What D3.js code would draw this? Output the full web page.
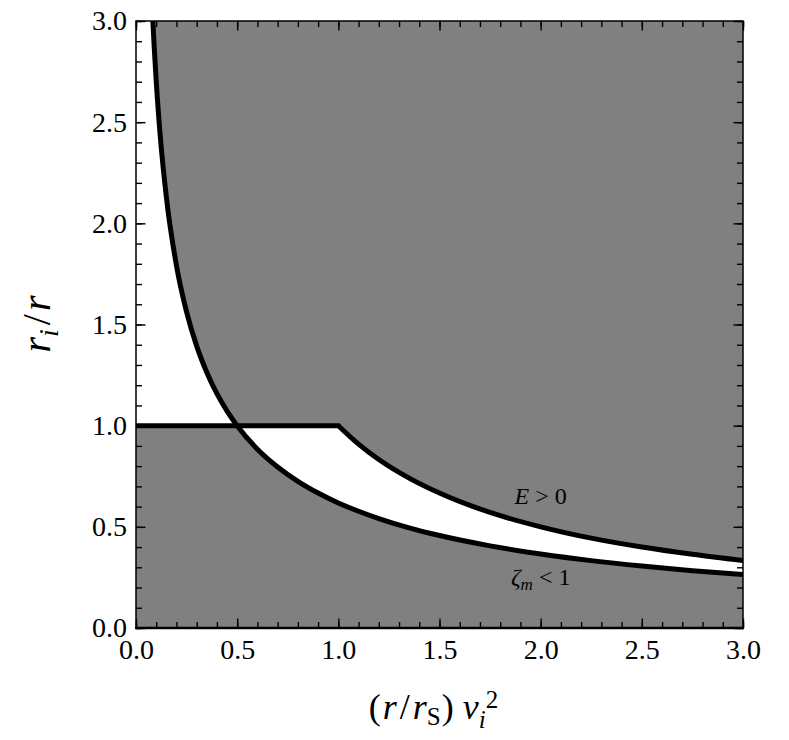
<!DOCTYPE html>
<html>
<head>
<meta charset="utf-8">
<script src="https://cdn.jsdelivr.net/npm/d3@7"></script>
<style>
  body { margin: 0; background: #fff; }
  svg text { font-family: "Liberation Serif", "Times New Roman", serif; fill: #000; }
</style>
</head>
<body>
<svg id="chart" width="789" height="740"></svg>
<script>
// (r/rS) vi^2 samples and the zeta_m = 1 boundary (ri/r)
const vGrid     = [0.0833, 0.09, 0.1, 0.12, 0.15, 0.2, 0.25, 0.3, 0.35, 0.4, 0.45, 0.5,
                   0.6, 0.7, 0.8, 0.9, 1.0, 1.1, 1.2, 1.35, 1.5, 1.75, 2.0, 2.25, 2.5, 2.75, 3.0];
const zetaBound = [3.000, 2.871, 2.702, 2.430, 2.130, 1.791, 1.562, 1.393, 1.263, 1.158, 1.072, 1.000,
                   0.884, 0.796, 0.725, 0.667, 0.618, 0.577, 0.541, 0.495, 0.457, 0.406, 0.366, 0.333, 0.306, 0.283, 0.264];

// E = 0 boundary: flat part, then the falling part
const flatX  = [0, 1.0];
const flatY  = [1, 1];
const eGrid  = [1.0, 1.1, 1.2, 1.35, 1.5, 1.75, 2.0, 2.25, 2.5, 2.75, 3.0];
const eBound = [1.000, 0.909, 0.833, 0.741, 0.667, 0.571, 0.500, 0.444, 0.400, 0.364, 0.333];

const tickMajor  = [0, 0.5, 1, 1.5, 2, 2.5, 3];
const tickLabels = ['0.0', '0.5', '1.0', '1.5', '2.0', '2.5', '3.0'];

const width = 789, height = 740;
const margin = {top: 21, right: 46, bottom: 112, left: 136};
const gray = '#808080';

const svg = d3.select('#chart');

const x = d3.scaleLinear().domain([0, 3]).range([margin.left, width - margin.right]);
const y = d3.scaleLinear().domain([0, 3]).range([height - margin.bottom, margin.top]);

svg.append('defs').append('clipPath').attr('id', 'plotClip')
    .append('rect')
    .attr('x', x(0)).attr('y', y(3))
    .attr('width', x(3) - x(0)).attr('height', y(0) - y(3));

const plot = svg.append('g').attr('clip-path', 'url(#plotClip)');

// background: everything excluded
plot.append('rect')
    .attr('x', x(0)).attr('y', y(3))
    .attr('width', x(3) - x(0)).attr('height', y(0) - y(3))
    .attr('fill', gray);

const zetaPts = vGrid.map((v, i) => [v, zetaBound[i]]);
const zetaAt = (v) => zetaBound[vGrid.indexOf(v)];

const whiteArea = (sel) => sel.attr('fill', '#fff').attr('stroke', '#fff').attr('stroke-width', 1);

// allowed region above ri/r = 1, left of the zeta curve
const leftPts = zetaPts.filter((d) => d[0] <= 0.5).reverse();
plot.append('path')
    .datum(leftPts)
    .call(whiteArea)
    .attr('d', d3.area()
        .curve(d3.curveMonotoneY)
        .y((d) => y(d[1]))
        .x0(x(0))
        .x1((d) => x(d[0])));

// allowed region below ri/r = 1, between zeta curve and flat E boundary
const midPts = zetaPts.filter((d) => d[0] >= 0.5 && d[0] <= 1.0);
plot.append('path')
    .datum(midPts)
    .call(whiteArea)
    .attr('d', d3.area()
        .curve(d3.curveMonotoneX)
        .x((d) => x(d[0]))
        .y0((d) => y(d[1]))
        .y1(y(flatY[0])));

// allowed wedge between the zeta curve and the falling E boundary
const wedgePts = eGrid.map((v, i) => [v, zetaAt(v), eBound[i]]);
plot.append('path')
    .datum(wedgePts)
    .call(whiteArea)
    .attr('d', d3.area()
        .curve(d3.curveMonotoneX)
        .x((d) => x(d[0]))
        .y0((d) => y(d[1]))
        .y1((d) => y(d[2])));

// boundary lines
const smooth = d3.line().curve(d3.curveMonotoneX).x((d) => x(d[0])).y((d) => y(d[1]));
const straight = d3.line().x((d) => x(d[0])).y((d) => y(d[1]));

plot.append('path')
    .attr('d', smooth(zetaPts))
    .attr('fill', 'none').attr('stroke', '#000').attr('stroke-width', 5);

const ePath = straight(flatX.map((v, i) => [v, flatY[i]])) +
    smooth(eGrid.map((v, i) => [v, eBound[i]])).replace(/^M/, 'L');
plot.append('path')
    .attr('d', ePath)
    .attr('fill', 'none').attr('stroke', '#000').attr('stroke-width', 5)
    .attr('stroke-linejoin', 'miter');

// ticks on all four sides, pointing inward
const fmt = (d) => tickLabels[tickMajor.indexOf(d)];
const styleAxis = (g) => {
    g.select('.domain').remove();
    g.selectAll('line').attr('stroke', '#000').attr('stroke-width', 1.4);
    g.selectAll('text').attr('font-size', 28).attr('fill', '#000');
};

svg.append('g').attr('transform', `translate(0,${y(0)})`)
    .call(d3.axisBottom(x).tickValues(tickMajor).tickFormat(fmt).tickSizeInner(-9.5).tickSizeOuter(0).tickPadding(11))
    .call(styleAxis);
svg.append('g').attr('transform', `translate(0,${y(0)})`)
    .call(d3.axisBottom(x).ticks(30).tickFormat('').tickSizeInner(-6).tickSizeOuter(0))
    .call(styleAxis);
svg.append('g').attr('transform', `translate(0,${y(3)})`)
    .call(d3.axisTop(x).tickValues(tickMajor).tickFormat('').tickSizeInner(-9.5).tickSizeOuter(0))
    .call(styleAxis);
svg.append('g').attr('transform', `translate(0,${y(3)})`)
    .call(d3.axisTop(x).ticks(30).tickFormat('').tickSizeInner(-6).tickSizeOuter(0))
    .call(styleAxis);

svg.append('g').attr('transform', `translate(${x(0)},0)`)
    .call(d3.axisLeft(y).tickValues(tickMajor).tickFormat(fmt).tickSizeInner(-9.5).tickSizeOuter(0).tickPadding(9))
    .call(styleAxis);
svg.append('g').attr('transform', `translate(${x(0)},0)`)
    .call(d3.axisLeft(y).ticks(30).tickFormat('').tickSizeInner(-6).tickSizeOuter(0))
    .call(styleAxis);
svg.append('g').attr('transform', `translate(${x(3)},0)`)
    .call(d3.axisRight(y).tickValues(tickMajor).tickFormat('').tickSizeInner(-9.5).tickSizeOuter(0))
    .call(styleAxis);
svg.append('g').attr('transform', `translate(${x(3)},0)`)
    .call(d3.axisRight(y).ticks(30).tickFormat('').tickSizeInner(-6).tickSizeOuter(0))
    .call(styleAxis);

// frame
svg.append('rect')
    .attr('x', x(0)).attr('y', y(3))
    .attr('width', x(3) - x(0)).attr('height', y(0) - y(3))
    .attr('fill', 'none').attr('stroke', '#000').attr('stroke-width', 1.5);
svg.append('line')
    .attr('x1', x(0) - 1).attr('x2', x(3) + 1)
    .attr('y1', y(0)).attr('y2', y(0))
    .attr('stroke', '#000').attr('stroke-width', 2.5);

// region labels
const eLabel = svg.append('text')
    .attr('x', x(2.0)).attr('y', y(0.613))
    .attr('text-anchor', 'middle').attr('font-size', 24);
eLabel.append('tspan').attr('font-style', 'italic').text('E');
eLabel.append('tspan').text(' > 0');

const zLabel = svg.append('text')
    .attr('x', x(2.0)).attr('y', y(0.213))
    .attr('text-anchor', 'middle').attr('font-size', 24);
zLabel.append('tspan').attr('font-style', 'italic').text('ζ');
zLabel.append('tspan').attr('font-style', 'italic').attr('font-size', 17).attr('dy', 5).text('m');
zLabel.append('tspan').attr('dy', -5).text(' < 1');

// axis titles
const xTitle = svg.append('text')
    .attr('x', (x(0) + x(3)) / 2 - 6).attr('y', 719)
    .attr('text-anchor', 'middle').attr('font-size', 36);
xTitle.append('tspan').text('(');
xTitle.append('tspan').attr('font-style', 'italic').attr('dx', 2).text('r');
xTitle.append('tspan').attr('dx', 3).text('/');
xTitle.append('tspan').attr('font-style', 'italic').attr('dx', 3).text('r');
xTitle.append('tspan').attr('font-size', 25).attr('dy', 6).text('S');
xTitle.append('tspan').attr('dy', -6).attr('dx', 1).text(')');
xTitle.append('tspan').attr('font-style', 'italic').attr('dx', 9).text('v');
xTitle.append('tspan').attr('font-style', 'italic').attr('font-size', 25).attr('dy', 9).text('i');
xTitle.append('tspan').attr('font-size', 25).attr('dy', -20).attr('dx', 0).text('2');

const yTitle = svg.append('text')
    .attr('transform', 'translate(50,324) rotate(-90)')
    .attr('text-anchor', 'middle').attr('font-size', 40);
yTitle.append('tspan').attr('font-style', 'italic').text('r');
yTitle.append('tspan').attr('font-style', 'italic').attr('font-size', 28).attr('dy', 8).text('i');
yTitle.append('tspan').attr('dy', -8).attr('dx', 4).text('/');
yTitle.append('tspan').attr('font-style', 'italic').attr('dx', 3).text('r');
</script>
</body>
</html>
